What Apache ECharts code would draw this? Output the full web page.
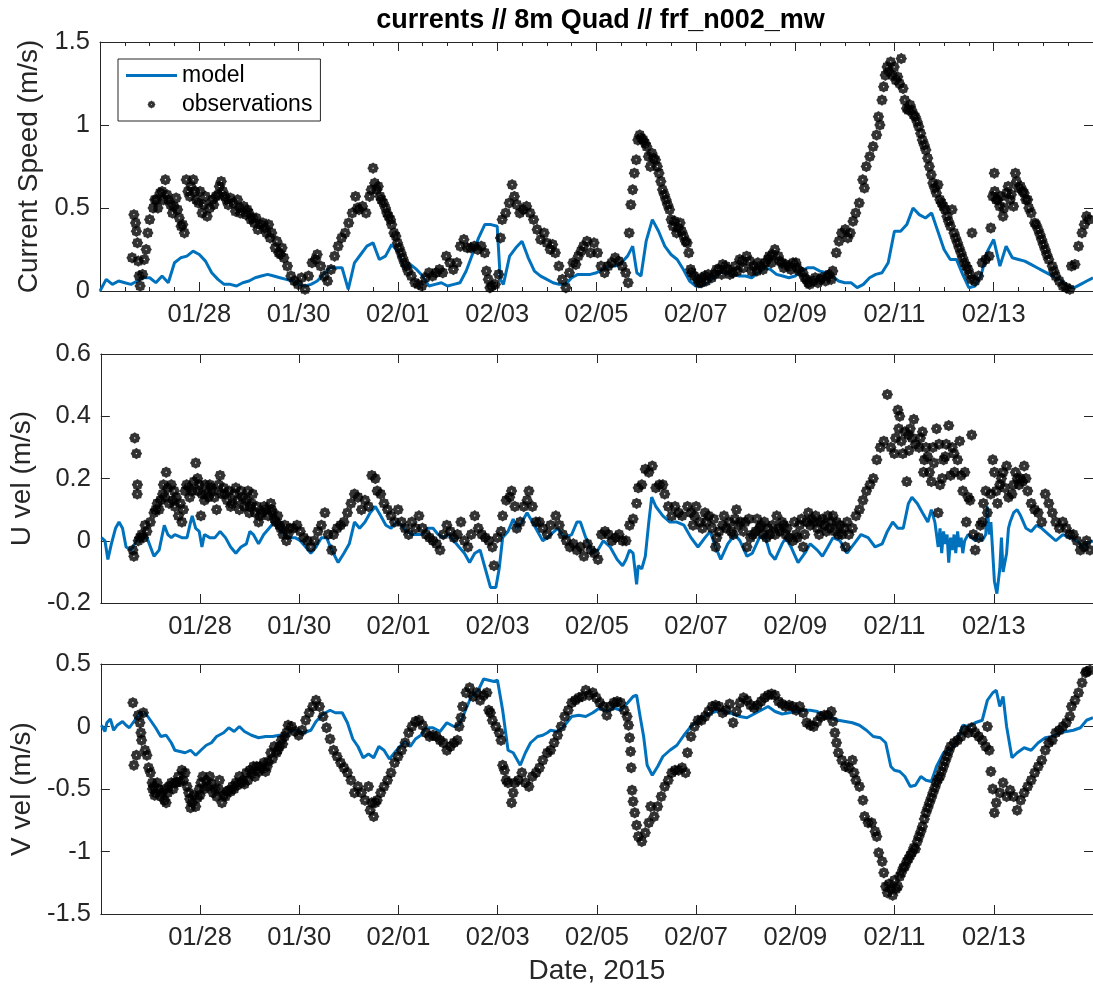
<!DOCTYPE html>
<html>
<head>
<meta charset="utf-8">
<script src="https://cdn.jsdelivr.net/npm/echarts@6/dist/echarts.min.js"></script>
<style>
  html, body { margin: 0; padding: 0; background: #ffffff; }
  #chart { width: 1093px; height: 991px; }
</style>
</head>
<body>
<div id="chart"></div>
<script>
// Time is in hours since 2015-01-26 00:00; the axis runs to 02/15 00:00.
const titleText = 'currents // 8m Quad // frf_n002_mw';
const xTickLabels = ['01/26', '01/28', '01/30', '02/01', '02/03', '02/05', '02/07', '02/09', '02/11', '02/13', '02/15'];
const panelNames = ['Current Speed (m/s)', 'U vel (m/s)', 'V vel (m/s)'];
const panelRanges = [[0, 1.5, 0.5], [-0.2, 0.6, 0.2], [-1.5, 0.5, 0.5]];

// Model current speed [hour, m/s]
const modelSpeed = [
  [0,0.0],[3,0.07],[6,0.04],[9,0.06],[12,0.05],[15,0.04],[18,0.06],[21,0.08],
  [24,0.08],[27,0.05],[30,0.09],[33,0.05],[36,0.17],[39,0.2],[42,0.21],[45,0.24],
  [48,0.22],[51,0.18],[54,0.11],[57,0.07],[60,0.04],[63,0.04],[66,0.03],[69,0.05],
  [72,0.06],[75,0.08],[78,0.09],[81,0.1],[84,0.09],[87,0.08],[90,0.07],[93,0.06],
  [96,0.04],[99,0.03],[102,0.04],[105,0.06],[108,0.1],[111,0.14],[114,0.14],[117,0.14],
  [120,0.01],[123,0.17],[126,0.22],[129,0.27],[132,0.29],[135,0.19],[138,0.21],[141,0.28],
  [144,0.24],[147,0.14],[150,0.16],[153,0.13],[156,0.09],[159,0.03],[162,0.04],[165,0.05],
  [168,0.03],[171,0.04],[174,0.05],[177,0.12],[180,0.22],[183,0.32],[186,0.4],[189,0.4],
  [192,0.39],[193.5,0.07],[195,0.04],[198,0.21],[201,0.26],[204,0.3],[207,0.2],[210,0.12],[213,0.09],
  [216,0.07],[219,0.05],[222,0.04],[225,0.04],[228,0.08],[231,0.1],[234,0.1],[237,0.1],
  [240,0.11],[243,0.13],[246,0.15],[249,0.15],[252,0.17],[255,0.21],[257.5,0.27],[259.5,0.11],[261.5,0.09],
  [264,0.3],[267,0.43],[270,0.36],[273,0.27],[276,0.22],[279,0.19],[282,0.13],[285,0.06],
  [288,0.03],[291,0.03],[294,0.05],[297,0.09],[300,0.11],[303,0.11],[306,0.1],[309,0.09],
  [312,0.09],[315,0.08],[318,0.11],[321,0.14],[324,0.13],[327,0.1],[330,0.09],[333,0.08],
  [336,0.09],[339,0.12],[342,0.14],[345,0.14],[348,0.12],[351,0.11],[354,0.09],[357,0.06],
  [360,0.05],[363,0.05],[366,0.02],[369,0.04],[372,0.08],[375,0.1],[378,0.11],[381,0.17],
  [384,0.36],[387,0.36],[390,0.4],[393,0.5],[396,0.46],[399,0.44],[402,0.47],[405,0.36],
  [408,0.25],[411,0.19],[414,0.19],[417,0.1],[420,0.02],[423,0.03],[426,0.1],[429,0.24],
  [432,0.31],[435,0.15],[438,0.27],[441,0.2],[444,0.19],[447,0.18],[450,0.16],[453,0.14],
  [456,0.12],[459,0.1],[462,0.08],[465,0.06],[468,0.02],[471,0.02],[474,0.04],[477,0.06],
  [480,0.08]
];

// Observed current speed [hour, m/s]
const obsSpeed = [
  [15.5,0.2],[16.4,0.46],[17.2,0.41],[17.6,0.36],[18.1,0.29],[18.5,0.18],[18.9,0.09],[19.4,0.03],[20.6,0.1],[21.4,0.19],
  [22.3,0.25],[23.1,0.35],[24,0.43],[25.7,0.5],[26.5,0.55],[27.3,0.55],[28,0.5],[29,0.59],[30,0.6],[30.7,0.55],
  [31.6,0.67],[32.4,0.58],[33,0.55],[34.1,0.52],[35,0.47],[35.8,0.51],[36.8,0.56],[37.5,0.49],[38.3,0.44],[39.2,0.39],
  [40,0.4],[40.8,0.35],[41.7,0.67],[42.5,0.6],[43.4,0.57],[44,0.63],[45.1,0.67],[45.9,0.6],[46.5,0.55],[47.6,0.53],
  [48.4,0.6],[49.3,0.47],[50.1,0.52],[51,0.57],[51.8,0.45],[53,0.5],[54.3,0.55],[55,0.52],[56,0.57],[57,0.58],
  [57.7,0.63],[58.6,0.66],[59.4,0.6],[60.3,0.57],[61.1,0.55],[62,0.52],[63,0.56],[64.5,0.53],[65.5,0.48],[66.5,0.55],
  [67.5,0.5],[67.8,0.47],[69.5,0.51],[70.5,0.46],[71.2,0.49],[72,0.47],[72.9,0.43],[73.8,0.44],[74.6,0.41],[75.5,0.44],
  [76.3,0.37],[77.5,0.4],[78.8,0.41],[79.7,0.38],[80.5,0.35],[81.5,0.4],[82.2,0.32],[83,0.35],[84.7,0.26],[85.5,0.3],
  [86.4,0.23],[87.3,0.22],[88,0.26],[88.9,0.2],[90.6,0.15],[92.3,0.09],[94,0.06],[95.7,0.04],[97.4,0.08],[99.1,0.01],
  [100.8,0.09],[102.5,0.17],[104.1,0.19],[105,0.22],[106.7,0.15],[108.4,0.09],[110,0.06],[111.7,0.13],[113.4,0.21],[115.1,0.27],
  [116.8,0.32],[118.5,0.35],[120.2,0.41],[121.9,0.47],[123.5,0.57],[124.4,0.5],[125.2,0.49],[126.9,0.51],[128.6,0.47],[130.3,0.57],
  [131.1,0.61],[132,0.74],[132.8,0.65],[133.7,0.61],[134.5,0.63],[135.4,0.57],[136,0.55],[137,0.53],[138,0.5],[138.7,0.47],
  [139.5,0.45],[140.4,0.43],[141,0.4],[142.1,0.35],[143,0.33],[143.8,0.29],[144.6,0.26],[145.5,0.23],[146.3,0.2],[147.2,0.17],
  [148,0.15],[148.9,0.12],[150.5,0.09],[152.2,0.05],[153.9,0.04],[155.6,0.03],[157.3,0.08],[159,0.11],[160.7,0.09],[162.4,0.11],
  [164.1,0.13],[165.7,0.11],[167.4,0.21],[169.1,0.17],[170.8,0.13],[172.5,0.17],[174.2,0.27],[175.9,0.31],[177.6,0.26],[179.2,0.26],
  [180.9,0.27],[182.6,0.25],[184.3,0.27],[186,0.23],[186.8,0.12],[187.7,0.07],[188.5,0.02],[189.4,0.03],[191.1,0.04],[192.7,0.1],
  [193.6,0.32],[194.4,0.43],[196.1,0.47],[197.8,0.53],[199.2,0.64],[200.3,0.57],[201.5,0.52],[202.9,0.47],[204.6,0.49],[206.2,0.51],
  [207.9,0.47],[209.6,0.43],[211.3,0.37],[213,0.31],[214.7,0.35],[216,0.29],[217.6,0.25],[218.8,0.28],[220.1,0.23],[221.8,0.15],
  [223.5,0.07],[225.2,0.02],[226.9,0.11],[228.6,0.17],[230,0.16],[231.2,0.21],[232.5,0.24],[233.7,0.27],[235.4,0.3],[237.1,0.23],
  [238.8,0.29],[240.5,0.23],[242.2,0.15],[243.9,0.11],[245.6,0.15],[247.3,0.17],[249,0.2],[250.7,0.18],[252.4,0.15],[254.1,0.11],
  [255.3,0.05],[255.8,0.35],[256.6,0.52],[257.5,0.61],[258.3,0.71],[259.2,0.79],[260,0.91],[260.9,0.94],[261.7,0.92],[262.6,0.91],
  [263.5,0.89],[264.3,0.87],[265.1,0.81],[266,0.75],[266.8,0.83],[267.6,0.8],[268.5,0.79],[269.4,0.75],[270.2,0.71],[271.1,0.66],
  [271.9,0.61],[272.8,0.58],[273.6,0.55],[274.4,0.52],[275.3,0.49],[276.1,0.43],[277,0.39],[277.8,0.42],[278.7,0.35],[279.5,0.38],
  [280.4,0.41],[281.2,0.36],[282.1,0.33],[283,0.3],[283.8,0.29],[284.6,0.23],[285.5,0.13],[286,0.11],[287.2,0.09],[288.9,0.07],
  [289.5,0.05],[290.6,0.05],[291,0.08],[292.3,0.09],[293,0.06],[294,0.1],[295.7,0.08],[297,0.1],[298,0.13],[299.1,0.13],
  [300.5,0.1],[301,0.16],[302.5,0.15],[303.5,0.13],[304.5,0.1],[305.9,0.11],[307,0.15],[308,0.12],[309.2,0.19],[310.5,0.18],
  [311,0.14],[312.6,0.21],[314,0.18],[315,0.12],[316,0.15],[317.5,0.12],[318,0.17],[319.4,0.15],[320.5,0.13],[321.5,0.17],
  [322.8,0.19],[323.5,0.21],[324.5,0.17],[325,0.22],[326.2,0.25],[327.9,0.21],[328.5,0.18],[329.6,0.17],[330.5,0.14],[331.5,0.16],
  [333,0.15],[334,0.13],[335,0.17],[336.4,0.17],[337,0.14],[338,0.12],[339.8,0.11],[340.6,0.08],[341.5,0.07],[342.3,0.05],
  [343,0.04],[344.9,0.06],[345.7,0.08],[347,0.05],[348.3,0.07],[349,0.08],[350.7,0.06],[351.7,0.09],[352.5,0.1],[353.5,0.07],
  [354.2,0.12],[355.9,0.23],[357.2,0.3],[358.5,0.35],[360.2,0.37],[361.5,0.32],[362.7,0.35],[364,0.42],[365.3,0.47],[367,0.53],
  [368.7,0.67],[369.5,0.62],[370.4,0.75],[372.1,0.81],[373.7,0.87],[375.4,0.94],[376.3,1.05],[377,1.0],[378,1.15],[378.8,1.23],
  [379.6,1.3],[380.5,1.35],[381.3,1.32],[382.2,1.38],[383.1,1.3],[383.9,1.35],[384.7,1.27],[385.6,1.29],[386.5,1.25],[387.3,1.4],
  [388.2,1.22],[389,1.15],[389.9,1.1],[390.7,1.09],[391.6,1.12],[392.4,1.09],[393.3,1.06],[394.1,1.05],[395,1.02],[395.8,0.99],
  [396.7,0.95],[397.5,0.91],[398.4,0.88],[399.2,0.85],[400.1,0.8],[400.9,0.75],[401.8,0.7],[402.6,0.65],[403.5,0.62],[404.3,0.59],
  [405.1,0.64],[406,0.55],[406.8,0.53],[407.7,0.51],[408.5,0.49],[409.4,0.45],[410.2,0.42],[411.1,0.39],[411.9,0.49],[412.8,0.35],
  [413.6,0.32],[414.5,0.29],[415.3,0.26],[416.2,0.23],[417,0.2],[417.9,0.17],[418.7,0.15],[419.6,0.13],[420.4,0.1],[421.3,0.07],
  [421.5,0.35],[423,0.06],[424.7,0.09],[426.4,0.17],[428.1,0.19],[429.8,0.21],[430.6,0.38],[431.5,0.57],[432.3,0.71],[432.5,0.6],
  [433.2,0.55],[434,0.55],[434.9,0.51],[435.5,0.57],[436.5,0.45],[437,0.5],[438.2,0.59],[439,0.63],[439.9,0.55],[440.5,0.58],
  [441.6,0.51],[442.5,0.71],[443,0.66],[444,0.62],[445,0.63],[446,0.6],[446.7,0.59],[447.5,0.55],[448.4,0.55],[449,0.5],
  [450.1,0.47],[451.8,0.41],[452.5,0.4],[453.5,0.37],[454.4,0.34],[455.2,0.31],[456,0.28],[456.9,0.25],[457.7,0.22],[458.6,0.19],
  [460.3,0.15],[461.1,0.12],[462,0.09],[463.7,0.06],[465.4,0.03],[467.1,0.02],[468.8,0.01],[469.6,0.15],[471.3,0.16],[473,0.27],
  [474.7,0.35],[475.8,0.4],[476.9,0.45],[478,0.43]
];

// Model cross-shore (U) velocity [hour, m/s]
const modelU = [
  [0.3,0.01],[2,0],[3.4,-0.06],[5.1,-0.01],[7.1,0.04],[8.8,0.06],[10.5,0.04],[12.2,-0.02],[14.7,-0.03],[17.2,0],
  [19.7,0.01],[22.3,0.01],[25.7,-0.05],[28.2,-0.03],[30.7,0.05],[32.4,0.02],[34.1,0.01],[35.8,0.02],[39.2,0.01],[41.7,0.01],
  [43.4,0.06],[44.2,0.08],[45.9,0.04],[47.6,0.03],[48.9,-0.02],[50.1,0.02],[52.7,0.01],[55.2,0.01],[57.7,0.03],[60.3,0.01],
  [62.8,-0.02],[65.3,-0.04],[67.8,-0.02],[70.4,-0.01],[72.1,0.03],[73.8,0.02],[76.3,-0.01],[78.8,0.02],[81.4,0.04],[83.9,0.06],
  [86.4,0.04],[88.9,0.02],[91.5,0.01],[94,0.01],[96.5,0],[99.1,-0.02],[101.6,-0.04],[104.1,-0.02],[106.7,0.01],[109.2,0.01],
  [111.7,-0.03],[114.8,-0.07],[117.6,-0.04],[120.2,-0.01],[122.7,0.06],[125.2,0.04],[127.8,0.06],[130.3,0.09],[132.8,0.11],[135.4,0.08],
  [137.9,0.05],[140.4,0.04],[143,0.06],[145.5,0.05],[148,0.03],[150.5,0.02],[153.1,0.02],[155.6,0.02],[158.1,0.04],[160.7,0.04],
  [163.2,0.02],[165.7,0.01],[168.3,0.02],[170.8,0],[173.3,-0.02],[175.9,-0.04],[178.4,-0.07],[180.9,-0.04],[183.5,-0.03],[186,-0.09],
  [188.5,-0.15],[191.1,-0.15],[192.7,-0.09],[194.4,0.01],[197,0.03],[199.5,0.07],[201.2,0.04],[203.7,0.06],[206.2,0.09],[208.8,0.06],
  [211.3,0.03],[213.8,0],[216,0.01],[217.6,0.02],[221,0.04],[224.4,0.01],[227.8,0.02],[230.3,0.06],[232,0.06],[234.6,0.01],
  [238,-0.04],[240.5,-0.03],[243.1,0],[246.4,-0.02],[249.8,-0.06],[252.4,-0.08],[254.1,-0.06],[255.8,-0.03],[257.5,-0.04],[259.2,-0.14],
  [260,-0.08],[261.7,-0.09],[263.4,-0.05],[265.1,0.06],[266.5,0.14],[268.5,0.11],[271.9,0.08],[275.3,0.06],[278.7,0.06],[282.1,0.05],
  [285.5,0.01],[288.9,-0.02],[292.3,0.01],[294.8,0.03],[297.4,-0.02],[299.9,-0.06],[303.3,-0.01],[306.7,0.02],[309.2,0],[312.6,-0.05],
  [315.2,-0.04],[318.6,0.01],[321.1,0.02],[323.7,-0.04],[326.2,-0.06],[329.6,-0.01],[331.3,0.01],[333.9,-0.02],[337.3,-0.07],[340.6,-0.04],
  [343.2,-0.01],[346.6,-0.03],[349.1,-0.05],[351.7,-0.02],[354.2,0.01],[357.6,0],[361,-0.04],[364.4,-0.01],[367.8,0.02],[371.2,0.01],
  [374.6,-0.02],[378,-0.01],[380.5,0.03],[383.1,0.06],[385.6,0.04],[388.2,0.04],[390.7,0.12],[392.4,0.14],[395,0.12],[397.5,0.09],
  [400.1,0.06],[401.8,0.1],[403.5,0.06],[404.3,0.02],[405.1,-0.02],[406,0.04],[406.8,-0.04],[407.7,0.03],[408.5,-0.01],[409.4,0.02],
  [410.2,-0.07],[411.1,0.01],[411.9,-0.03],[412.8,0.02],[413.6,-0.04],[414.5,0.03],[415.3,-0.02],[416.2,0.01],[417,-0.04],[417.9,0],
  [419.6,0.02],[421.3,0.01],[423,0],[424.7,0.01],[426.4,0],[428.1,0.02],[428.9,0.11],[429.8,0.02],[430.6,0.06],[431.5,-0.04],
  [432.3,-0.13],[433.5,-0.17],[434.9,-0.09],[435.7,0.01],[436.5,-0.1],[438.2,-0.04],[439.1,0.04],[439.9,0.06],[441.6,0.09],[443.3,0.1],
  [445,0.08],[447.6,0.04],[450.1,0.03],[452.7,0.05],[455.2,0.04],[458.6,0.02],[462,0],[465.4,0.02],[468.8,0.01],[472.2,0],
  [475.6,-0.02],[476.9,-0.01],[480,0]
];

// Observed U velocity [hour, m/s]
const obsU = [
  [15.5,-0.03],[16,-0.05],[16.4,0.33],[17.2,0.28],[17.6,0.15],[17.7,0.18],[18.1,0],[18.9,0.01],[19.7,0.02],[20.6,0.01],
  [21.4,0.05],[22.3,0.03],[24,0.06],[25.7,0.09],[26.5,0.1],[27.3,0.12],[28.2,0.1],[28.8,0.13],[29.9,0.15],[30.3,0.18],
  [31,0.14],[31.6,0.22],[32.4,0.17],[33,0.12],[34.1,0.18],[34.9,0.13],[35.5,0.16],[35.8,0.11],[36.5,0.14],[37.5,0.08],
  [38.5,0.12],[39.2,0.06],[40,0.1],[40.8,0.16],[41.5,0.18],[42.5,0.17],[43,0.14],[44.2,0.16],[45,0.19],[45.9,0.25],
  [46.8,0.2],[47,0.16],[47.6,0.18],[48.4,0.08],[49,0.15],[50.1,0.13],[50.5,0.18],[51,0.15],[52,0.14],[52.7,0.18],
  [53.5,0.17],[54.3,0.16],[55,0.14],[56,0.1],[57,0.18],[57.7,0.21],[58.5,0.15],[59.4,0.17],[60,0.15],[61.1,0.13],
  [62,0.16],[62.8,0.11],[63.5,0.12],[64.5,0.15],[65.3,0.17],[66.2,0.13],[67,0.1],[67.8,0.16],[68.7,0.14],[69.5,0.11],
  [70.4,0.13],[71.2,0.16],[71.8,0.09],[72.1,0.11],[72.9,0.12],[73.5,0.15],[74.6,0.09],[75.4,0.11],[76.3,0.06],[77,0.08],
  [78,0.09],[79,0.11],[79.7,0.1],[81,0.08],[82.2,0.12],[82.7,0.1],[83,0.09],[84,0.07],[84.7,0.06],[85.6,0.08],
  [86.4,0.05],[87,0.04],[88.1,0.02],[89,0.05],[89.8,0],[90.5,0.02],[91.5,0.04],[93.2,0.04],[94.9,0.05],[96.5,0.03],
  [98.2,0.01],[99.9,0],[101.6,-0.02],[103.3,0],[105,0.03],[106.7,0.05],[108.4,0.09],[110,0.02],[111.7,-0.03],[112.6,0.02],
  [114.3,0.04],[116,0.05],[117.6,0.06],[119.3,0.09],[121,0.12],[122.7,0.15],[124.4,0.14],[126.1,0.1],[127.8,0.13],[129.5,0.11],
  [131.1,0.21],[132.8,0.2],[133.7,0.16],[135.4,0.15],[137,0.12],[138.7,0.1],[140.4,0.08],[142.1,0.06],[143.8,0.1],[145.5,0.06],
  [147.2,0.04],[148.9,0.02],[150.5,0.06],[152.2,0.04],[153.9,0.08],[155.6,0.04],[157.3,0.02],[159,0.01],[160.7,0],[162.4,-0.01],
  [164.1,-0.03],[165.7,0.02],[167.4,0.05],[169.1,0.03],[170.8,0.01],[172.5,0.02],[174.2,0.06],[175.9,0],[177.6,-0.02],[179.2,0.02],
  [180.9,0.08],[182.6,0.04],[184.3,0.02],[186,0.01],[187.7,0],[189.4,-0.02],[190.2,-0.08],[191.9,0.01],[193.6,0.03],[194.4,0.08],
  [196.1,0.13],[197.8,0.14],[198.7,0.16],[200.3,0.11],[201.2,0.04],[202.9,0.06],[204.6,0.11],[206.2,0.13],[207.1,0.16],[208.8,0.11],
  [210.5,0.06],[212.2,0.06],[213.8,0.04],[216,0.02],[217.6,0.05],[220.1,0.08],[221.8,0.05],[223.5,0.02],[225.2,0],[226.9,-0.02],
  [228.6,-0.01],[230.3,-0.03],[232,-0.02],[233.7,-0.05],[235.4,-0.01],[237.1,-0.03],[238.8,-0.04],[240.5,-0.06],[242.2,0.02],[243.9,0.03],
  [245.6,0.02],[247.3,0],[249,0.01],[250.7,0.02],[252.4,0],[254.1,0],[255.8,0.05],[257.5,0.07],[259.2,0.12],[260,0.17],
  [261.7,0.18],[263.4,0.23],[265.1,0.22],[266.8,0.24],[268.5,0.17],[270.2,0.18],[271.9,0.18],[272.8,0.15],[274.5,0.11],[276.2,0.08],
  [277.8,0.11],[279.5,0.09],[281.2,0.08],[283.8,0.11],[285.5,0.09],[286.5,0.05],[287.2,0.08],[288,0.11],[289.7,0.06],[291,0.04],
  [292.3,0.09],[293,0.06],[294,0.08],[295.7,0.04],[296.5,0.07],[297.4,-0.02],[298,0.01],[299.1,0.03],[300.8,0.05],[301.5,0.08],
  [302.5,0.04],[304,0.06],[305,0.03],[306,0.02],[306.7,0.07],[307.5,0.1],[308.4,0.05],[309.5,0.06],[310.9,0.03],[311.7,0.06],
  [312.6,-0.02],[313.5,0.07],[314.3,0.01],[315.5,0.02],[316.8,0.03],[317.5,0.07],[318.6,0.04],[319.5,0.05],[320.3,0.02],[321,0.06],
  [322,0.01],[323,0.04],[323.7,0.02],[325,0.05],[326.2,0.02],[327,0.08],[327.9,0.04],[328.5,0.03],[329.6,0.06],[330.5,0.05],
  [331.3,0.02],[332,0.04],[333,0.01],[334.7,0],[335.5,0.06],[336.4,0.02],[337,0.01],[338.1,0.05],[339,0.07],[339.8,-0.02],
  [340.5,0.02],[341.5,0.06],[342.3,0.09],[343.2,0.05],[344,0.07],[344.9,0.06],[345.8,0.08],[346.6,0.04],[347.5,0.02],[348.3,0.06],
  [349.1,0.07],[350,0.05],[351,0.03],[351.7,0.08],[352.5,0.04],[353.4,0.06],[354.2,0.08],[355.1,0.03],[356,0.06],[356.8,0.02],
  [357.6,0.05],[358.5,0.02],[359.5,0.04],[360.2,-0.02],[361,0.06],[361.9,0.02],[363.6,0.04],[365.3,0.08],[367,0.1],[368.7,0.13],
  [370.4,0.16],[372.1,0.18],[373.7,0.2],[375.4,0.26],[377.1,0.3],[378.8,0.32],[380.5,0.47],[382.2,0.3],[383.9,0.28],[384.5,0.33],
  [385.6,0.42],[386,0.36],[386.5,0.4],[387.3,0.32],[388,0.28],[389,0.35],[389.9,0.19],[390.7,0.34],[391,0.29],[391.6,0.36],
  [392.5,0.33],[393.3,0.39],[394.1,0.31],[395.8,0.3],[396.5,0.33],[397.5,0.35],[398,0.22],[398.4,0.26],[399.2,0.3],[400,0.27],
  [400.9,0.22],[401.8,0.19],[402.6,0.3],[403,0.25],[404.3,0.36],[405.1,0.09],[405.5,0.31],[406,0.18],[407,0.2],[407.7,0.26],
  [408.5,0.27],[409,0.31],[410.2,0.37],[411.1,0.21],[411.9,0.3],[412.8,0.28],[413,0.22],[414.5,0.26],[415.5,0.32],[416.2,0.21],
  [417,0.16],[418,0.22],[418.7,0.06],[419.6,0.14],[420.5,0.13],[421.3,0.34],[422.1,0.02],[423,-0.03],[424.7,0.01],[425.5,0.05],
  [426.4,0.06],[427,0.12],[428.1,0.16],[428.9,0.09],[430.5,0.15],[431.5,0.26],[432.3,0.22],[433.2,0.16],[433.8,0.12],[434.9,0.18],
  [435.7,0.2],[436.5,0.22],[437.3,0.17],[438.2,0.24],[439.1,0.14],[440.8,0.15],[441.6,0.18],[442.5,0.22],[443.4,0.2],[444.2,0.18],
  [445,0.2],[445.9,0.19],[446.7,0.24],[447.6,0.2],[448.4,0.16],[450.1,0.12],[451.8,0.1],[453.5,0.09],[455.2,0.06],[456.9,0.15],
  [458.6,0.12],[460.3,0.09],[462,0.06],[463.7,0.04],[465.4,0.06],[467.1,0.04],[468.8,0.02],[470.5,0.02],[472.2,0],[473.9,-0.03],
  [475.6,-0.02],[476.9,0],[478.5,-0.03]
];

// Model alongshore (V) velocity [hour, m/s]
const modelV = [
  [0.3,0.01],[2,-0.04],[2.9,0.03],[4.6,0.06],[6.2,-0.03],[7.9,0.01],[10.5,0.04],[12.2,0.01],[13.8,-0.01],[16.4,0.05],
  [18.9,0.11],[21.4,0.11],[24,0.05],[26.5,-0.01],[29,-0.08],[31.6,-0.07],[34.1,-0.13],[35.8,-0.19],[38.3,-0.2],[40.8,-0.21],
  [43.4,-0.19],[45.9,-0.23],[48.4,-0.19],[51,-0.15],[53.5,-0.13],[56,-0.08],[59.4,-0.05],[61.9,-0.01],[64.5,-0.04],[67,0],
  [69.5,-0.04],[72.9,-0.07],[76.3,-0.09],[79.7,-0.08],[83,-0.08],[86.4,-0.07],[88.9,-0.08],[91.5,-0.04],[94.9,-0.03],[98.2,-0.05],
  [101.6,-0.03],[104.1,0.04],[107.5,0.1],[110.9,0.13],[113.4,0.11],[116.8,0.11],[119.3,0.03],[121.9,-0.1],[124.4,-0.16],[126.9,-0.25],
  [129.5,-0.22],[132,-0.25],[134.5,-0.16],[137,-0.19],[139.6,-0.26],[142.1,-0.21],[144.6,-0.16],[147.2,-0.12],[149.7,-0.16],[152.2,-0.1],
  [154.8,-0.07],[157.3,-0.01],[160.7,-0.01],[164.1,-0.04],[167.4,0.03],[170.8,0],[173.3,0.01],[175.9,0.11],[179.2,0.24],[182.6,0.29],
  [185.2,0.38],[187.7,0.37],[190.2,0.36],[191.9,0.37],[194.4,0.13],[197,-0.19],[199.5,-0.21],[202.9,-0.31],[205.4,-0.21],[207.9,-0.13],
  [211.3,-0.08],[213.8,-0.07],[216,-0.05],[217.6,-0.03],[221,-0.04],[224.4,0.01],[227.8,0.08],[231.2,0.09],[234.6,0.08],[238,0.11],
  [241.4,0.15],[244.8,0.12],[248.1,0.15],[251.5,0.13],[254.9,0.19],[257.5,0.24],[259.2,0.25],[260.9,0.08],[262.6,-0.08],[264.3,-0.31],
  [266.8,-0.39],[269.4,-0.32],[271.9,-0.24],[275.3,-0.19],[278.7,-0.15],[282.1,-0.07],[285.5,0],[288.9,0.05],[292.3,0.08],[295.7,0.11],
  [299.1,0.13],[302.5,0.12],[305.9,0.1],[309.2,0.08],[312.6,0.07],[316,0.1],[319.4,0.13],[322.8,0.16],[326.2,0.12],[329.6,0.1],
  [333,0.11],[336.4,0.12],[339.8,0.13],[343.2,0.13],[346.6,0.12],[350,0.08],[353.4,0.07],[356.8,0.05],[360.2,0.04],[363.6,0.03],
  [367,0.01],[370.4,-0.03],[373.7,-0.08],[377.1,-0.09],[379.7,-0.13],[382.2,-0.32],[383.9,-0.35],[386.5,-0.36],[389,-0.4],[391.6,-0.48],
  [394.1,-0.47],[396.7,-0.4],[399.2,-0.43],[401.8,-0.44],[404.3,-0.32],[407.7,-0.21],[411.1,-0.19],[414.5,-0.11],[417,0.01],[419.6,0],
  [423,0.03],[426.4,0.05],[428.9,0.21],[431.5,0.27],[433.2,0.29],[434.9,0.16],[436.5,0.24],[438.2,0],[440.8,-0.25],[443.3,-0.21],
  [446.7,-0.17],[450.1,-0.19],[453.5,-0.13],[456.9,-0.09],[460.3,-0.08],[463.7,-0.05],[467.1,-0.04],[470.5,-0.03],[473.9,-0.01],[476.9,0.05],
  [480,0.07]
];

// Observed V velocity [hour, m/s]
const obsV = [
  [15.5,0.19],[16,-0.31],[17.2,-0.23],[18.1,0.09],[18.9,0.03],[19.4,-0.05],[19.7,-0.11],[20.6,0.11],[21.4,-0.19],[22.3,-0.23],
  [23.1,-0.33],[24,-0.37],[24.8,-0.45],[25,-0.5],[25.7,-0.48],[26,-0.55],[26.5,-0.53],[27.3,-0.45],[28,-0.5],[29,-0.56],
  [29.9,-0.53],[30.7,-0.59],[31,-0.5],[31.6,-0.61],[32.4,-0.53],[33,-0.48],[34.1,-0.45],[35,-0.5],[35.8,-0.45],[36.6,-0.45],
  [37.5,-0.4],[38.3,-0.44],[39.2,-0.35],[40,-0.43],[40.8,-0.37],[41.7,-0.48],[42.5,-0.53],[43,-0.58],[43.4,-0.65],[44.2,-0.61],
  [45,-0.55],[45.9,-0.64],[46.8,-0.57],[47.6,-0.5],[48,-0.55],[48.4,-0.45],[49.3,-0.4],[50,-0.5],[51,-0.43],[51.8,-0.48],
  [52.7,-0.4],[53.5,-0.46],[54.3,-0.53],[55.2,-0.5],[56,-0.56],[57,-0.5],[57.4,-0.43],[58.6,-0.61],[59.4,-0.55],[60.3,-0.56],
  [61,-0.52],[61.9,-0.51],[62.8,-0.52],[63.6,-0.48],[64.5,-0.5],[65.3,-0.45],[66,-0.47],[67,-0.4],[68,-0.45],[68.7,-0.43],
  [69.5,-0.46],[70.4,-0.37],[71.2,-0.43],[72.1,-0.35],[73,-0.38],[73.8,-0.32],[74.6,-0.4],[75.4,-0.32],[76.3,-0.36],[77.1,-0.32],
  [78,-0.34],[78.8,-0.29],[79.7,-0.36],[80.5,-0.32],[81,-0.28],[82.2,-0.21],[83,-0.26],[83.9,-0.16],[85,-0.21],[85.6,-0.19],
  [86.4,-0.16],[87.3,-0.11],[88,-0.14],[88.9,-0.08],[89.8,-0.05],[90.6,0.01],[92.3,0],[94,-0.04],[95.7,-0.07],[97.4,-0.03],
  [99.1,0.05],[100.8,0.11],[102.5,0.16],[104.1,0.21],[105.8,0.16],[107.5,0.08],[109.2,-0.01],[110.9,-0.1],[112.6,-0.19],[114.3,-0.24],
  [116,-0.29],[117.6,-0.33],[119.3,-0.37],[121,-0.43],[122.7,-0.53],[124.4,-0.48],[126.1,-0.53],[127.8,-0.59],[129.5,-0.48],[130.3,-0.67],
  [131.1,-0.61],[132,-0.72],[132.8,-0.61],[133.7,-0.59],[135.4,-0.53],[137,-0.48],[138.7,-0.43],[140.4,-0.37],[142.1,-0.29],[143.8,-0.24],
  [145.5,-0.19],[147.2,-0.13],[148.9,-0.05],[150.5,0],[152.2,0.04],[153.9,0.05],[155.6,0.01],[157.3,-0.05],[159,-0.08],[160.7,-0.07],
  [162.4,-0.08],[164.1,-0.11],[165.7,-0.13],[167.4,-0.19],[169.1,-0.16],[170.8,-0.13],[172.5,-0.11],[173.3,0],[174.2,0.07],[175,0.16],
  [176.7,0.27],[178.4,0.31],[180.1,0.24],[181.8,0.27],[183.5,0.21],[185.2,0.25],[186.8,0.27],[187.7,0.13],[188.5,0.11],[189.4,0.05],
  [191.1,0],[192.7,-0.05],[193.6,-0.11],[194.4,-0.31],[195.3,-0.35],[196.1,-0.43],[197,-0.45],[198.7,-0.61],[199.5,-0.53],[200.3,-0.45],
  [202,-0.43],[203.7,-0.37],[205.4,-0.45],[207.1,-0.48],[208.8,-0.4],[210.5,-0.37],[212.2,-0.33],[213.8,-0.27],[216,-0.21],[217.6,-0.19],
  [219.3,-0.13],[221,-0.07],[222.7,0],[224.4,0.08],[226.1,0.13],[227.8,0.19],[229.5,0.21],[231.2,0.23],[232.9,0.24],[234.6,0.29],
  [236.3,0.25],[238,0.27],[239.7,0.23],[241.4,0.19],[243.1,0.16],[244.8,0.09],[246.4,0.16],[248.1,0.19],[249.8,0.2],[251.5,0.19],
  [253.2,0.13],[254.6,0.08],[255.3,0.01],[255.8,-0.09],[256.3,-0.2],[256.6,-0.33],[257,-0.51],[257.5,-0.6],[258.3,-0.69],[259.2,-0.79],
  [260,-0.88],[261.7,-0.92],[263.4,-0.85],[265.1,-0.77],[266,-0.64],[267.7,-0.72],[269.4,-0.64],[271.1,-0.56],[272.8,-0.48],[274.5,-0.43],
  [276.2,-0.37],[277.8,-0.35],[279.5,-0.35],[281.2,-0.33],[282.9,-0.37],[283.8,-0.21],[285.5,-0.08],[287.2,0],[288.9,0.05],[290.6,0.05],
  [292.3,0.08],[294,0.12],[295.7,0.16],[297.4,0.17],[299.1,0.16],[300.8,0.11],[302.5,0.13],[304.2,0.18],[305.9,0.03],[307.6,0.12],
  [309.2,0.19],[310.9,0.23],[312.6,0.21],[314.3,0.17],[316,0.15],[317.7,0.17],[319.4,0.2],[321.1,0.23],[322.8,0.25],[324.5,0.26],
  [326.2,0.25],[327.9,0.2],[329.6,0.18],[331.3,0.16],[333,0.17],[334.7,0.16],[336.4,0.13],[338.1,0.16],[339.8,0.11],[341.5,0.03],
  [343.2,0.01],[344.9,0],[346.6,0.04],[348.3,0.08],[350,0.09],[351.7,0.09],[353.4,0.12],[354.2,0.04],[355.1,-0.05],[355.9,-0.13],
  [356.8,-0.21],[358.5,-0.27],[360.2,-0.32],[361.9,-0.33],[363.6,-0.27],[364.4,-0.37],[365.3,-0.43],[367,-0.48],[368.7,-0.59],[369.5,-0.72],
  [371.2,-0.77],[372.9,-0.77],[374.6,-0.84],[375.4,-0.88],[376.3,-1.01],[378,-1.08],[378.8,-1.17],[379.7,-1.28],[380.5,-1.33],[381.3,-1.26],
  [382.2,-1.3],[383.1,-1.35],[383.9,-1.23],[384.7,-1.3],[385.6,-1.28],[386.5,-1.2],[387.3,-1.17],[388.2,-1.13],[389,-1.12],[389.9,-1.08],
  [390.7,-1.06],[391.6,-1.03],[392.4,-1.01],[393.3,-0.97],[394.1,-0.98],[395,-0.92],[395.8,-0.88],[396.7,-0.84],[397.5,-0.8],[398.4,-0.74],
  [399.2,-0.69],[400.1,-0.65],[400.9,-0.61],[401.8,-0.57],[402.6,-0.53],[403.5,-0.49],[404.3,-0.45],[405.1,-0.42],[406,-0.4],[406.8,-0.36],
  [407.7,-0.32],[408.5,-0.28],[409.4,-0.24],[410.2,-0.2],[411.1,-0.16],[412.8,-0.13],[414.5,-0.11],[416.2,-0.08],[417.9,-0.03],[419.6,-0.05],
  [421.3,-0.01],[423,-0.05],[424.7,-0.08],[426.4,-0.11],[428.1,-0.16],[428.9,0],[429.8,-0.19],[430.6,-0.36],[431.5,-0.5],[432.3,-0.69],
  [433.2,-0.61],[434.9,-0.53],[436.5,-0.45],[438.2,-0.56],[439.9,-0.51],[441.6,-0.56],[443.3,-0.67],[445,-0.59],[446.7,-0.53],[448.4,-0.48],
  [450.1,-0.43],[451.8,-0.37],[453.5,-0.32],[455.2,-0.27],[456.9,-0.19],[458.6,-0.13],[460.3,-0.11],[462,-0.05],[463.7,-0.03],[465.4,0],
  [467.1,0.03],[468.8,0.08],[469.6,0.16],[471.3,0.21],[473,0.27],[474.7,0.35],[476.4,0.43],[476.9,0.44],[478.5,0.45]
];

const modelSeries = [modelSpeed, modelU, modelV];
const obsSeries = [obsSpeed, obsU, obsV];

const AXIS_COLOR = '#262626';
const FONT = '"Liberation Sans", Arial, Helvetica, sans-serif';
const MODEL_COLOR = '#0072BD';
// Eight-pointed asterisk-like marker with a small open centre
const STAR_MARKER = 'path://M100,50L88.8,66.1L85.4,85.4L66.1,88.8L50,100L33.9,88.8L14.6,85.4L11.2,66.1L0,50L11.2,33.9L14.6,14.6L33.9,11.2L50,0L66.1,11.2L85.4,14.6L88.8,33.9Z' +
  'M56,50L54.2,45.8L50,44L45.8,45.8L44,50L45.8,54.2L50,56L54.2,54.2Z';
const LINE_ICON = 'path://M0,0L51,0L51,3L0,3Z';

// Panel placement inside the page (pixels)
const gridLeft = 100, gridWidth = 999;
const gridTops = [42, 354, 664];
const gridHeights = [249, 249, 250];

const fmtY = v => String(Math.round(v * 10) / 10);
const fmtX = v => xTickLabels[Math.round(v / 48)] || '';

const grids = [], xAxes = [], yAxes = [], series = [];

for (let p = 0; p < 3; p++) {
  grids.push({ left: gridLeft, top: gridTops[p], width: gridWidth, height: gridHeights[p], containLabel: false });

  const minorShow = p === 0;
  const xBase = {
    type: 'value', gridIndex: p, min: 0, max: 480, interval: 48,
    axisLine: { show: true, onZero: false, lineStyle: { color: AXIS_COLOR, width: 1 } },
    axisTick: { show: true, inside: true, length: 9, lineStyle: { color: AXIS_COLOR, width: 1 } },
    minorTick: { show: minorShow, splitNumber: 4, length: 4, lineStyle: { color: AXIS_COLOR, width: 1 } },
    splitLine: { show: false }, minorSplitLine: { show: false }
  };
  xAxes.push(Object.assign({}, xBase, {
    position: 'bottom',
    axisLabel: {
      show: true, margin: 11, color: AXIS_COLOR, fontSize: 25.5, fontFamily: FONT,
      formatter: fmtX, showMinLabel: false, showMaxLabel: false
    },
    name: p === 2 ? 'Date, 2015' : '',
    nameLocation: 'middle', nameGap: 43,
    nameTextStyle: { color: AXIS_COLOR, fontSize: 28, fontFamily: FONT }
  }));
  xAxes.push(Object.assign({}, xBase, { position: 'top', axisLabel: { show: false } }));

  const [ymin, ymax, yint] = panelRanges[p];
  const yBase = {
    type: 'value', gridIndex: p, min: ymin, max: ymax, interval: yint,
    axisLine: { show: true, onZero: false, lineStyle: { color: AXIS_COLOR, width: 1 } },
    axisTick: { show: true, inside: true, length: 9, lineStyle: { color: AXIS_COLOR, width: 1 } },
    splitLine: { show: false }
  };
  yAxes.push(Object.assign({}, yBase, {
    position: 'left',
    axisLabel: { show: true, margin: 10, color: AXIS_COLOR, fontSize: 25.5, fontFamily: FONT, formatter: fmtY },
    name: panelNames[p], nameLocation: 'middle', nameRotate: 90, nameGap: 52,
    nameTextStyle: { color: AXIS_COLOR, fontSize: 28, fontFamily: FONT }
  }));
  yAxes.push(Object.assign({}, yBase, { position: 'right', axisLabel: { show: false } }));

  series.push({
    name: 'model', type: 'line',
    xAxisIndex: 2 * p, yAxisIndex: 2 * p,
    data: modelSeries[p],
    showSymbol: false, symbol: 'none',
    lineStyle: { color: MODEL_COLOR, width: 3 },
    itemStyle: { color: MODEL_COLOR },
    z: 2, clip: true, silent: true
  });
  series.push({
    name: 'observations', type: 'scatter',
    xAxisIndex: 2 * p, yAxisIndex: 2 * p,
    data: obsSeries[p],
    symbol: STAR_MARKER, symbolSize: 11.5,
    itemStyle: { color: '#000000', borderWidth: 0 },
    z: 3, clip: true, silent: true
  });
}

const chart = echarts.init(document.getElementById('chart'), null, { renderer: 'canvas' });
chart.setOption({
  backgroundColor: '#ffffff',
  animation: false,
  title: {
    text: titleText, left: gridLeft + gridWidth / 2 - 4, top: 2, textAlign: 'center',
    textStyle: { color: '#000000', fontSize: 27, fontWeight: 'bold', fontFamily: FONT }
  },
  legend: {
    data: [
      { name: 'model', icon: LINE_ICON, itemStyle: { color: MODEL_COLOR } },
      { name: 'observations' }
    ],
    orient: 'vertical', left: 118, top: 59,
    itemWidth: 51, itemHeight: 8, itemGap: 6,
    padding: [5, 8, 5, 8],
    borderColor: AXIS_COLOR, borderWidth: 1, backgroundColor: '#ffffff',
    textStyle: { color: '#000000', fontSize: 23, fontFamily: FONT },
    selectedMode: false
  },
  grid: grids,
  xAxis: xAxes,
  yAxis: yAxes,
  series: series
});
</script>
</body>
</html>
